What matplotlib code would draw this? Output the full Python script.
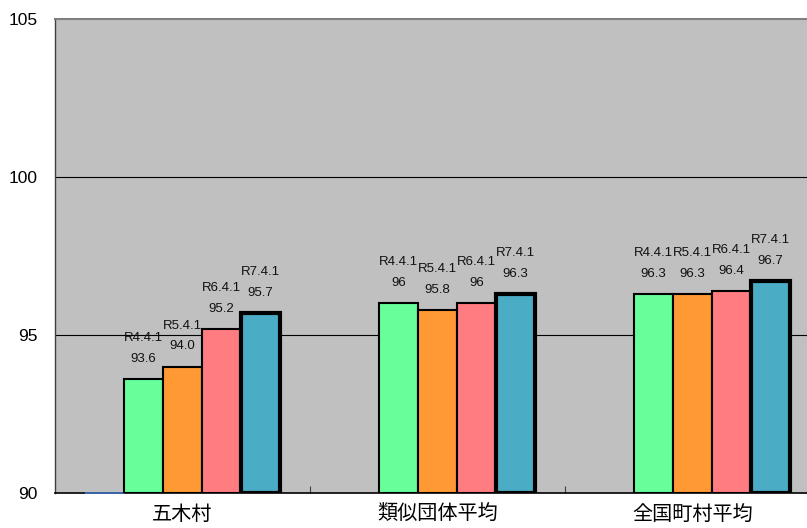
import numpy as np
import matplotlib
matplotlib.use("Agg")
import matplotlib.pyplot as plt

categories = ['五木村', '類似団体平均', '全国町村平均']
series_names = ['R4.4.1', 'R5.4.1', 'R6.4.1', 'R7.4.1']
r4 = [93.6, 96.0, 96.3]
r5 = [94.0, 95.8, 96.3]
r6 = [95.2, 96.0, 96.4]
r7 = [95.7, 96.3, 96.7]
r4_labels = ['93.6', '96', '96.3']
r5_labels = ['94.0', '95.8', '96.3']
r6_labels = ['95.2', '96', '96.4']
r7_labels = ['95.7', '96.3', '96.7']
blank = [90.0, np.nan, np.nan]
yticks = [90, 95, 100, 105]

colors = ['#66FF99', '#FF9933', '#FF7C80', '#4BACC6']
edge_w = [1.5, 1.5, 1.5, 3.0]

fig = plt.figure(figsize=(8.07, 5.28), dpi=100)
ax = fig.add_axes([55/807, 35/528, 765/807, 474/528])
ax.set_facecolor('#C0C0C0')
ymin = 90
ax.set_ylim(90, 105)
ax.set_xlim(-0.5, 2.5)

x = np.arange(len(categories))
w = 39/255

# hidden first series (shows only as a line at baseline)
bv = np.array(blank)
ax.bar(x - 2*w, bv - ymin, bottom=ymin, width=w, color='#4472C4',
       edgecolor='#4472C4', linewidth=1.2, zorder=3, clip_on=False)

all_vals = [r4, r5, r6, r7]
all_labels = [r4_labels, r5_labels, r6_labels, r7_labels]
for k, (vals, labs) in enumerate(zip(all_vals, all_labels)):
    xs = x + (k - 1) * w
    v = np.array(vals)
    ax.bar(xs, v - ymin, bottom=ymin, width=w, color=colors[k],
           edgecolor='black', linewidth=edge_w[k], zorder=3)
    for xi, vi, li in zip(xs, v, labs):
        ax.annotate(li, (xi, vi), xytext=(0, 14.5), textcoords='offset points',
                    ha='center', va='center', fontsize=9.5,
                    family='Liberation Sans', color='#111111', zorder=5)
        ax.annotate(series_names[k], (xi, vi), xytext=(0, 29.5),
                    textcoords='offset points', ha='center', va='center',
                    fontsize=9.5, family='Liberation Sans', color='#111111',
                    zorder=5)

for yv in [95, 100]:
    ax.axhline(yv, color='black', linewidth=0.8, zorder=1)

ax.set_yticks(yticks)
ax.set_yticklabels([str(t) for t in yticks], family='Liberation Sans', fontsize=12.5)
ax.tick_params(axis='y', length=0, pad=12.5)

ax.set_xticks(x)
ax.set_xticklabels(categories, family=['Noto Sans CJK JP', 'DejaVu Sans'], fontsize=14.5)
ax.tick_params(axis='x', length=0, pad=8)
ax.set_xticks([0.5, 1.5], minor=True)
ax.tick_params(axis='x', which='minor', direction='in', length=5, width=0.8, color='#404040')

ax.spines['top'].set_color('#808080')
ax.spines['top'].set_linewidth(1.5)
ax.spines['left'].set_color('#404040')
ax.spines['left'].set_linewidth(1.0)
ax.spines['bottom'].set_color('black')
ax.spines['bottom'].set_linewidth(1.2)
ax.spines['right'].set_visible(False)

fig.savefig('out.png', dpi=100)
